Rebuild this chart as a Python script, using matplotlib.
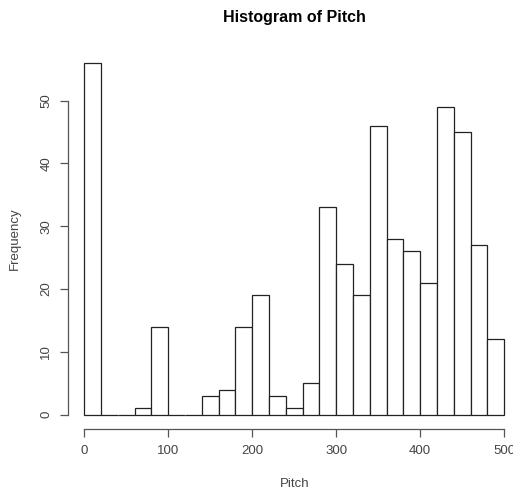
import matplotlib
matplotlib.use("Agg")
import matplotlib.pyplot as plt
import numpy as np

# Histogram bin edges and counts for Pitch
bin_edges = list(range(0, 520, 20))
counts = [56, 0, 0, 1, 14, 0, 0, 3, 4, 14, 19, 3, 1, 5, 33,
          24, 19, 46, 28, 26, 21, 49, 45, 27, 12]
x_ticks = [0, 100, 200, 300, 400, 500]
y_ticks = [0, 10, 20, 30, 40, 50]

plt.rcParams['font.family'] = ['Liberation Sans', 'DejaVu Sans']

fig = plt.figure(figsize=(5.13, 4.88), dpi=100)
ax = fig.add_axes([0.1316, 0.1213, 0.8840, 0.7785])

edges = np.array(bin_edges)
ax.bar(edges[:-1], counts, width=np.diff(edges), align='edge',
       facecolor='white', edgecolor='#222222', linewidth=0.9)

ax.set_xlim(-20, 520)
ax.set_ylim(-2.24, 58.24)

for s in ['top', 'right']:
    ax.spines[s].set_visible(False)
ax.spines['left'].set_bounds(0, 50)
ax.spines['bottom'].set_bounds(0, 500)
for s in ['left', 'bottom']:
    ax.spines[s].set_color('#555555')
    ax.spines[s].set_linewidth(0.9)

ax.set_xticks(x_ticks)
ax.set_yticks(y_ticks)
ax.tick_params(axis='both', colors='#555555', labelcolor='#444444',
               length=6, width=0.9, labelsize=9.5)
ax.tick_params(axis='x', pad=6)
ax.tick_params(axis='y', pad=5)
for lbl in ax.get_yticklabels():
    lbl.set_rotation(90)
    lbl.set_va('center')

ax.set_xlabel('Pitch', fontsize=9.5, color='#444444', labelpad=14.5)
ax.set_ylabel('Frequency', fontsize=9.5, color='#444444', labelpad=14)
fig.text(0.573, 0.964, 'Histogram of Pitch', ha='center', va='center',
         fontsize=11.5, fontweight='bold', color='black')

fig.savefig('out.png', dpi=100)
